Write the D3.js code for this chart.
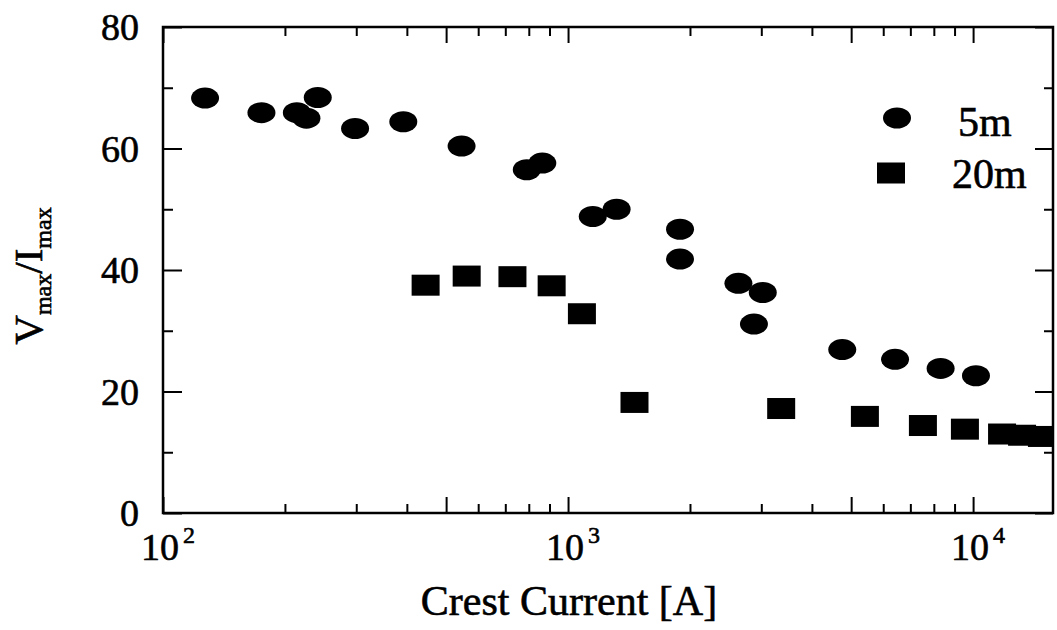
<!DOCTYPE html>
<html>
<head>
<meta charset="utf-8">
<script src="https://cdn.jsdelivr.net/npm/d3@7"></script>
<style>
  html, body { margin: 0; padding: 0; background: #fff; }
  svg { display: block; font-family: "Liberation Serif", "DejaVu Serif", serif; }
  svg text { fill: #000; stroke: #000; stroke-width: 0.6px; }
</style>
</head>
<body>
<svg id="chart" width="1057" height="630"></svg>
<script>
// Crest current [A] and Vmax/Imax for the 5 m measurement
const current5m = [127, 175, 214, 226, 241, 298, 392, 546, 791, 864, 1151, 1318, 1890, 1890, 2634, 3025, 2877, 4753, 6417, 8314, 10164];
const ratio5m   = [68.3, 65.9, 65.9, 65.0, 68.4, 63.3, 64.4, 60.4, 56.5, 57.6, 48.8, 50.0, 46.7, 41.8, 37.8, 36.3, 31.1, 26.9, 25.3, 23.8, 22.6];

// Crest current [A] and Vmax/Imax for the 20 m measurement
const current20m = [445, 562, 729, 911, 1082, 1459, 3359, 5406, 7518, 9546, 11790, 13210, 14790];
const ratio20m   = [37.5, 39.0, 38.9, 37.4, 32.8, 18.2, 17.2, 15.9, 14.4, 13.8, 13.0, 12.8, 12.6];

// Axis ticks
const yMajorTicks = [0, 20, 40, 60, 80];
const yMinorTicks = [10, 30, 50, 70];
const xDecades = [100, 1000, 10000];
const xDecadeExponents = ["2", "3", "4"];
const xDomain = [100, 15750];
const yDomain = [0, 80];

const legendLabels = ["5m", "20m"];

const svg = d3.select("#chart");
const plotLeft = 163, plotRight = 1053, plotTop = 27, plotBottom = 513;

const x = d3.scaleLog().domain(xDomain).range([plotLeft, plotRight]);
const y = d3.scaleLinear().domain(yDomain).range([plotBottom, plotTop]);

// Log ticks in each decade: 1 and 5 get long ticks, the rest short ones
const xLong = [], xShort = [];
xDecades.forEach(d => {
  for (let m = 1; m <= 9; m++) {
    const v = d * m;
    if (v > xDomain[1]) continue;
    if (m === 1 || m === 5) xLong.push(v); else xShort.push(v);
  }
});

function styleAxis(g) {
  g.select(".domain").remove();
  g.selectAll(".tick line").attr("stroke", "#000").attr("stroke-width", 2);
}

// bottom / top axes (ticks pointing inward)
svg.append("g").attr("transform", `translate(0,${plotBottom})`)
  .call(d3.axisBottom(x).tickValues(xLong).tickSizeInner(-16).tickSizeOuter(0).tickFormat(""))
  .call(styleAxis);
svg.append("g").attr("transform", `translate(0,${plotBottom})`)
  .call(d3.axisBottom(x).tickValues(xShort).tickSizeInner(-9).tickSizeOuter(0).tickFormat(""))
  .call(styleAxis);
svg.append("g").attr("transform", `translate(0,${plotTop})`)
  .call(d3.axisTop(x).tickValues(xLong).tickSizeInner(-16).tickSizeOuter(0).tickFormat(""))
  .call(styleAxis);
svg.append("g").attr("transform", `translate(0,${plotTop})`)
  .call(d3.axisTop(x).tickValues(xShort).tickSizeInner(-9).tickSizeOuter(0).tickFormat(""))
  .call(styleAxis);

// left / right axes
const yLeft = svg.append("g").attr("transform", `translate(${plotLeft},0)`)
  .call(d3.axisLeft(y).tickValues(yMajorTicks).tickSizeInner(-19).tickSizeOuter(0).tickPadding(24))
  .call(styleAxis);
yLeft.selectAll(".tick text")
  .attr("font-size", 38).attr("font-family", "Liberation Serif, serif")
  .attr("dy", "0.34em");
svg.append("g").attr("transform", `translate(${plotLeft},0)`)
  .call(d3.axisLeft(y).tickValues(yMinorTicks).tickSizeInner(-10).tickSizeOuter(0).tickFormat(""))
  .call(styleAxis);
svg.append("g").attr("transform", `translate(${plotRight},0)`)
  .call(d3.axisRight(y).tickValues(yMajorTicks).tickSizeInner(-18).tickSizeOuter(0).tickFormat(""))
  .call(styleAxis);
svg.append("g").attr("transform", `translate(${plotRight},0)`)
  .call(d3.axisRight(y).tickValues(yMinorTicks).tickSizeInner(-9).tickSizeOuter(0).tickFormat(""))
  .call(styleAxis);

// decade labels 10^n
const decadeLabels = svg.append("g").selectAll("g").data(xDecades).join("g")
  .attr("transform", d => `translate(${x(d)},0)`);
decadeLabels.append("text")
  .attr("x", -3).attr("y", 560).attr("text-anchor", "middle")
  .attr("font-size", 38).text("10");
decadeLabels.append("text")
  .attr("x", 20).attr("y", 543).attr("text-anchor", "start")
  .attr("font-size", 24).text((d, i) => xDecadeExponents[i]);

// axis titles
svg.append("text")
  .attr("x", 569).attr("y", 615).attr("text-anchor", "middle")
  .attr("font-size", 42).text("Crest Current [A]");

const yTitle = svg.append("text")
  .attr("transform", `translate(42,${(plotTop + plotBottom) / 2 + 6}) rotate(-90)`)
  .attr("text-anchor", "middle").attr("font-size", 41);
yTitle.append("tspan").text("V");
yTitle.append("tspan").attr("font-size", 24).attr("dy", 9).text("max");
yTitle.append("tspan").attr("dy", -9).text("/I");
yTitle.append("tspan").attr("font-size", 24).attr("dy", 9).text("max");

// markers, clipped to the plot frame
svg.append("clipPath").attr("id", "plot-clip")
  .append("rect").attr("x", plotLeft).attr("y", plotTop)
  .attr("width", plotRight - plotLeft).attr("height", plotBottom - plotTop);
const plot = svg.append("g").attr("clip-path", "url(#plot-clip)");

const pts5 = current5m.map((c, i) => ({ c, r: ratio5m[i] }));
const pts20 = current20m.map((c, i) => ({ c, r: ratio20m[i] }));

const rx = 14, ry = 10.5, sw = 28, sh = 21;

plot.selectAll("ellipse.m5").data(pts5).join("ellipse")
  .attr("class", "m5")
  .attr("cx", d => x(d.c)).attr("cy", d => y(d.r))
  .attr("rx", rx).attr("ry", ry).attr("fill", "#000");

plot.selectAll("rect.m20").data(pts20).join("rect")
  .attr("class", "m20")
  .attr("x", d => x(d.c) - sw / 2).attr("y", d => y(d.r) - sh / 2)
  .attr("width", sw).attr("height", sh).attr("fill", "#000");

// frame
svg.append("rect")
  .attr("x", plotLeft).attr("y", plotTop)
  .attr("width", plotRight - plotLeft).attr("height", plotBottom - plotTop)
  .attr("fill", "none").attr("stroke", "#000").attr("stroke-width", 2.5);

// legend
const legend = svg.append("g");
legend.append("ellipse").attr("cx", 897).attr("cy", 118).attr("rx", rx).attr("ry", ry).attr("fill", "#000");
legend.append("text").attr("x", 958).attr("y", 136).attr("font-size", 42).text(legendLabels[0]);
legend.append("rect").attr("x", 891 - sw / 2).attr("y", 173 - sh / 2).attr("width", sw).attr("height", sh).attr("fill", "#000");
legend.append("text").attr("x", 952).attr("y", 188).attr("font-size", 42).text(legendLabels[1]);
</script>
</body>
</html>
